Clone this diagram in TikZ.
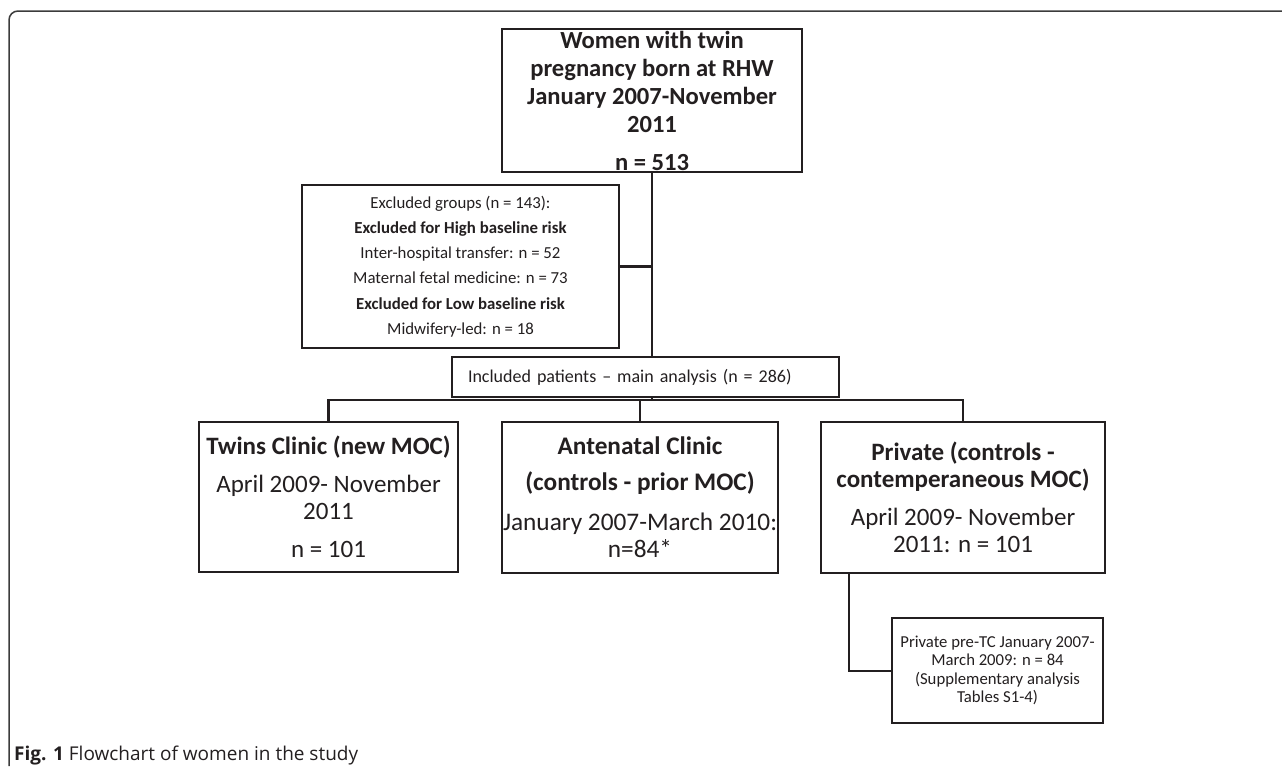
\documentclass[tikz,border=0pt]{standalone}
\usepackage{fontspec}
\setmainfont{Carlito}
\newfontfamily\capfont{Open Sans}
\definecolor{ink}{RGB}{35,31,32}
\definecolor{framec}{RGB}{60,60,60}
\begin{document}
\begin{tikzpicture}[x=1pt,y=-1pt,
  box/.style={draw=ink, line width=2.6pt, fill=white, inner sep=0pt, align=center, text=ink},
  thinbox/.style={box, line width=1.4pt},
  conn/.style={draw=ink, line width=2.6pt},
  thinconn/.style={draw=ink, line width=2pt}]
\useasboundingbox (0,0) rectangle (1282,766);
% frame
\draw[framec, line width=1.5pt, rounded corners=9pt] (1282,11) -- (9,11) -- (9,766);
% boxes
\node[box, minimum width=300pt, minimum height=143pt, font=\fontsize{24.6}{28}\selectfont\bfseries] (top) at (652,100.5)
  {Women with twin\\pregnancy born at RHW\\January 2007-November\\2011\\[10pt]n = 513};
\node[box, minimum width=317pt, minimum height=163pt, font=\fontsize{16.8}{25.3}\selectfont] (excl) at (460.5,266.5)
  {Excluded groups (n = 143):\\\textbf{Excluded for High baseline risk}\\Inter-hospital transfer: n = 52\\Maternal fetal medicine: n = 73\\\textbf{Excluded for Low baseline risk}\\Midwifery-led: n = 18};
\coordinate (br) at (652,400);
\coordinate (sp) at (849,0);
% connectors
\draw[conn] (top.south) -- (top.south |- br);
\draw[conn] (excl.east) -- (excl.east -| top.south);
\node[thinbox, minimum height=40pt, text width=355pt, inner xsep=16pt, align=left, font=\fontsize{18}{22}\selectfont] (incl) at (645.5,377)
  {Included patients -- main analysis (n = 286)};
\node[box, minimum width=259pt, minimum height=150pt, font=\fontsize{25}{27}\selectfont] (twins) at (328.5,497)
  {\textbf{Twins Clinic (new MOC)}\\[11pt]April 2009- November\\2011\\[11pt]n = 101};
\node[box, minimum width=276pt, minimum height=151pt, font=\fontsize{25.3}{27}\selectfont] (ante) at (640,497.5)
  {\textbf{Antenatal Clinic}\\[9pt]\textbf{(controls - prior MOC)}\\[13pt]January 2007-March 2010:\\n=84*};
\node[box, minimum width=284pt, minimum height=151pt, font=\fontsize{25}{27}\selectfont] (priv) at (963,497.5)
  {\textbf{Private (controls -}\\\textbf{contemperaneous MOC)}\\[11pt]April 2009- November\\2011: n = 101};
\node[thinbox, line width=1.7pt, minimum width=211pt, minimum height=105pt, font=\fontsize{16.7}{18.3}\selectfont] (supp) at (997.5,670.5)
  {Private pre-TC January 2007-\\March 2009: n = 84\\(Supplementary analysis\\Tables S1-4)};
\draw[conn] (twins.north) -- (twins.north |- br) -- (priv.north |- br) -- (priv.north);
\draw[conn] (ante.north) -- (ante.north |- br);
\draw[thinconn] (priv.south -| sp) |- (supp.west);
% caption
\node[anchor=base west, inner sep=0pt, text=ink, font=\capfont\fontsize{19}{22}\selectfont] (cap) at (14,760)
  {\textbf{Fig. 1} Flowchart of women in the study};
\end{tikzpicture}
\end{document}
